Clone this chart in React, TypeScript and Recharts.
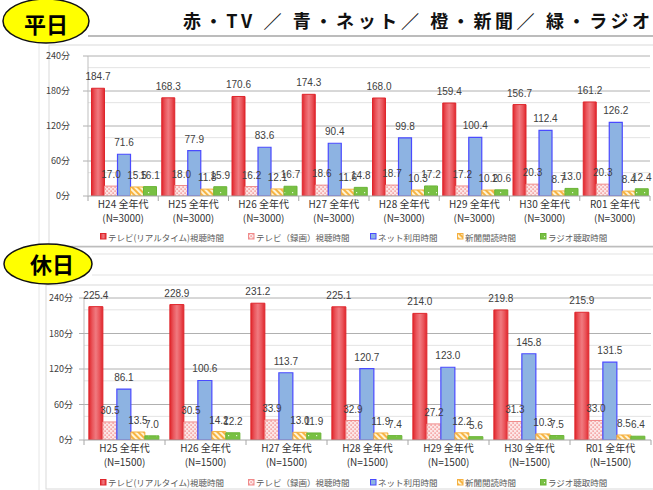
import React from 'react';
import { BarChart, Bar, XAxis, YAxis, CartesianGrid, LabelList, Legend } from 'recharts';

// ---------- data ----------
const weekdayCategories = ['H24', 'H25', 'H26', 'H27', 'H28', 'H29', 'H30', 'R01'];
const weekdaySample = '(N=3000)';
const weekdayTvReal = [184.7, 168.3, 170.6, 174.3, 168.0, 159.4, 156.7, 161.2];
const weekdayTvRec = [17.0, 18.0, 16.2, 18.6, 18.7, 17.2, 20.3, 20.3];
const weekdayNet = [71.6, 77.9, 83.6, 90.4, 99.8, 100.4, 112.4, 126.2];
const weekdayNews = [15.5, 11.8, 12.1, 11.6, 10.3, 10.2, 8.7, 8.4];
const weekdayRadio = [16.1, 15.9, 16.7, 14.8, 17.2, 10.6, 13.0, 12.4];

const holidayCategories = ['H25', 'H26', 'H27', 'H28', 'H29', 'H30', 'R01'];
const holidaySample = '(N=1500)';
const holidayTvReal = [225.4, 228.9, 231.2, 225.1, 214.0, 219.8, 215.9];
const holidayTvRec = [30.5, 30.5, 33.9, 32.9, 27.2, 31.3, 33.0];
const holidayNet = [86.1, 100.6, 113.7, 120.7, 123.0, 145.8, 131.5];
const holidayNews = [13.5, 14.2, 13.0, 11.9, 12.2, 10.3, 8.5];
const holidayRadio = [7.0, 12.2, 11.9, 7.4, 5.6, 7.5, 6.4];

const ageLabel = '全年代';
const yTicks = [0, 60, 120, 180, 240];
const minorGridValues = [20, 40, 80, 100, 140, 160, 200, 220];
const seriesKeys = ['tvReal', 'tvRec', 'net', 'news', 'radio'];
const seriesNames = ['テレビ(リアルタイム)視聴時間', 'テレビ（録画）視聴時間', 'ネット利用時間', '新聞閲読時間', 'ラジオ聴取時間'];
const titleText = '赤・TV ／ 青・ネット／ 橙・新聞／ 緑・ラジオ';
const weekdayBadge = '平日';
const holidayBadge = '休日';

const buildRows = (cats: string[], a: number[], b: number[], c: number[], d: number[], e: number[]) =>
  cats.map((cat, i) => ({ cat, tvReal: a[i], tvRec: b[i], net: c[i], news: d[i], radio: e[i] }));

const weekdayRows = buildRows(weekdayCategories, weekdayTvReal, weekdayTvRec, weekdayNet, weekdayNews, weekdayRadio);
const holidayRows = buildRows(holidayCategories, holidayTvReal, holidayTvRec, holidayNet, holidayNews, holidayRadio);

// ---------- styles ----------
const seriesFill = ['url(#gRed)', 'url(#pPink)', '#8db3e2', 'url(#pOrange)', 'url(#pGreen)'];
const seriesStroke = ['#df262c', '#f08a8a', '#4a4aff', '#f5b040', '#6ab436'];
const CJK = '"Noto Sans CJK JP", "Noto Sans", sans-serif';
const NUM = '"Liberation Sans", Arial, sans-serif';

const Defs = () => (
  <svg width={0} height={0} style={{ position: 'absolute' }}>
    <defs>
      <linearGradient id="gRed" x1="0" y1="0" x2="1" y2="0">
        <stop offset="0" stopColor="#e0262c" />
        <stop offset="0.25" stopColor="#ea565c" />
        <stop offset="0.5" stopColor="#f07a80" />
        <stop offset="0.75" stopColor="#ea565c" />
        <stop offset="1" stopColor="#e0262c" />
      </linearGradient>
      <pattern id="pPink" width="4" height="4" patternUnits="userSpaceOnUse">
        <rect width="4" height="4" fill="#fce6e6" />
        <rect x="0.5" y="0.5" width="1.2" height="1.2" fill="#ef6b6b" />
        <rect x="2.5" y="2.5" width="1.2" height="1.2" fill="#ef6b6b" />
      </pattern>
      <pattern id="pOrange" width="4" height="4" patternUnits="userSpaceOnUse" patternTransform="rotate(-45)">
        <rect width="4" height="4" fill="#fff4d6" />
        <rect width="2" height="4" fill="#f7b443" />
      </pattern>
      <pattern id="pGreen" width="8" height="7" patternUnits="userSpaceOnUse">
        <rect width="8" height="7" fill="#78c043" />
        <rect x="4" y="3" width="1.2" height="1.2" fill="#e8f5dc" />
      </pattern>
    </defs>
  </svg>
);

const makeTick = (sample: string, band: number, count: number) => (props: any) => {
  const { x, y, payload, index } = props;
  return (
    <g>
      <line x1={x - band / 2} y1={y} x2={x - band / 2} y2={y + 5} stroke="#a6a6a6" />
      {index === count - 1 && <line x1={x + band / 2} y1={y} x2={x + band / 2} y2={y + 5} stroke="#a6a6a6" />}
      <text x={x} y={y + 12} textAnchor="middle" fontSize={10} fill="#333" fontFamily={CJK}>
        {payload.value} {ageLabel}
      </text>
      <text x={x} y={y + 26} textAnchor="middle" fontSize={10} fill="#333" fontFamily={CJK}>
        {sample}
      </text>
    </g>
  );
};

const legendX = [100, 248, 370, 457, 540];

const LegendContent = () => (
  <div style={{ position: 'relative', height: 0, width: 653 }}>
    {seriesNames.map((n, i) => (
      <div
        key={n}
        style={{
          position: 'absolute',
          left: legendX[i],
          top: 0,
          whiteSpace: 'nowrap',
          fontFamily: CJK,
          fontSize: 8.5,
          lineHeight: '12px',
          color: '#595959',
          display: 'flex',
          alignItems: 'center',
        }}
      >
        <svg width={7} height={7} style={{ marginRight: 1 }}>
          <rect x={0.5} y={0.5} width={5.5} height={5.5} fill={seriesFill[i]} stroke={seriesStroke[i]} strokeWidth={1} />
        </svg>
        {n}
      </div>
    ))}
  </div>
);

const fmt = (v: any) => Number(v).toFixed(1);

const renderChart = (
  rows: any[],
  sample: string,
  width: number,
  height: number,
  margin: any,
  yWidth: number,
  tickMargin: number,
  gap: string,
  legendTop: number,
) => {
  const plotW = width - yWidth - margin.right;
  const band = plotW / rows.length;
  return (
    <BarChart width={width} height={height} data={rows} margin={margin} barCategoryGap={gap} barGap={0}>
      <CartesianGrid vertical={false} horizontalValues={minorGridValues} stroke="#e3e3e3" />
      <CartesianGrid vertical={false} horizontalValues={[60, 120, 180, 240]} stroke="#b0b0b0" />
      <XAxis
        dataKey="cat"
        height={30}
        tickSize={0}
        tickMargin={0}
        interval={0}
        stroke="#a6a6a6"
        tick={makeTick(sample, band, rows.length)}
      />
      <YAxis
        width={yWidth}
        domain={[0, 240]}
        ticks={yTicks}
        tickSize={5}
        tickMargin={tickMargin}
        stroke="#bfbfbf"
        tickLine={{ stroke: '#b0b0b0' }}
        tickFormatter={(v: number) => `${v}分`}
        tick={{ fontSize: 9, fill: '#404040', fontFamily: CJK }}
        allowDataOverflow
      />
      <Legend content={() => <LegendContent />} wrapperStyle={{ left: 0, top: legendTop, width: 653, height: 0 }} />
      {seriesKeys.map((k, i) => (
        <Bar
          key={k}
          dataKey={k}
          name={seriesNames[i]}
          fill={seriesFill[i]}
          stroke={seriesStroke[i]}
          strokeWidth={i === 2 ? 1.2 : 1}
          isAnimationActive={false}
        >
          <LabelList
            dataKey={k}
            position="top"
            offset={8}
            formatter={fmt}
            style={{ fontSize: 10, fill: '#404040', fontFamily: NUM }}
          />
        </Bar>
      ))}
    </BarChart>
  );
};

export default function App() {
  return (
    <div style={{ position: 'absolute', left: 0, top: 0, width: 653, height: 490, background: '#fff', overflow: 'hidden' }}>
      <Defs />
      {/* background frames */}
      <svg width={653} height={490} style={{ position: 'absolute', left: 0, top: 0 }}>
        <line x1={39} y1={40} x2={39} y2={490} stroke="#e6e6e6" />
        <rect x={49} y={45} width={620} height={202} fill="none" stroke="#d9d9d9" />
        <line x1={88} y1={36} x2={653} y2={36} stroke="#a6a6a6" strokeWidth={1.5} />
        <line x1={40} y1={246.5} x2={653} y2={246.5} stroke="#bdbdbd" strokeWidth={1.5} />
        <line x1={92} y1={254} x2={653} y2={254} stroke="#e3e3e3" />
        <line x1={92} y1={275} x2={653} y2={275} stroke="#e3e3e3" />
        <rect x={46} y={285} width={620} height={204} fill="none" stroke="#d9d9d9" />
      </svg>
      <div style={{ position: 'absolute', left: 0, top: 0 }}>
        {renderChart(weekdayRows, weekdaySample, 653, 250, { top: 56, right: 3, left: 0, bottom: 24 }, 88, 13, '5%', 230.5)}
      </div>
      <div style={{ position: 'absolute', left: 0, top: 250 }}>
        {renderChart(holidayRows, holidaySample, 653, 240, { top: 48, right: 2, left: 0, bottom: 20 }, 84, 6, '6%', 226)}
      </div>
      {/* overlay: title and badges */}
      <svg width={653} height={490} style={{ position: 'absolute', left: 0, top: 0, pointerEvents: 'none' }}>
        <text x={183} y={28} fontSize={18} fontWeight="bold" fill="#111" fontFamily={CJK} textLength={467} lengthAdjust="spacing">
          {titleText}
        </text>
        <ellipse cx={46} cy={21} rx={43} ry={22} fill="#ffff00" stroke="#111" strokeWidth={1.5} />
        <text x={46} y={23} fontSize={22} fontWeight="bold" fill="#000" fontFamily={CJK} textAnchor="middle" dominantBaseline="central">
          {weekdayBadge}
        </text>
        <ellipse cx={48} cy={264} rx={44} ry={20} fill="#ffff00" stroke="#111" strokeWidth={1.5} />
        <text x={52} y={263} fontSize={22} fontWeight="bold" fill="#000" fontFamily={CJK} textAnchor="middle" dominantBaseline="central">
          {holidayBadge}
        </text>
      </svg>
    </div>
  );
}
